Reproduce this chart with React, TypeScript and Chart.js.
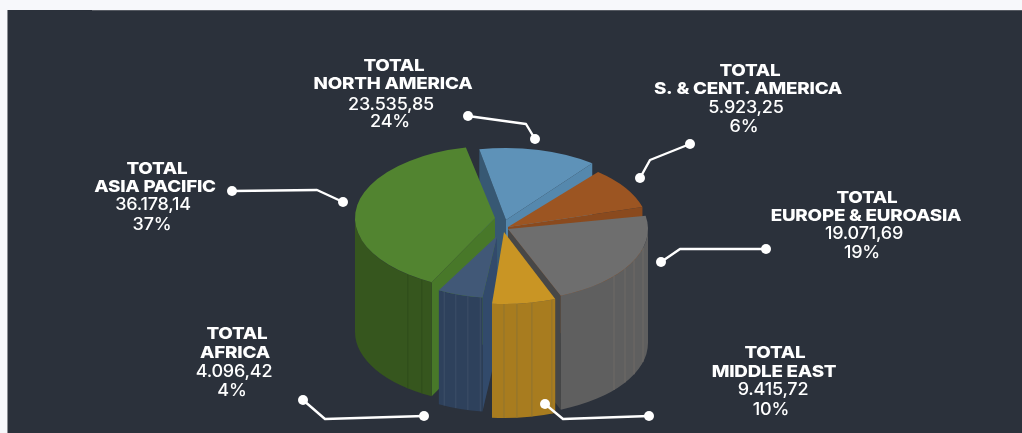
import React, { useEffect, useRef } from "react";
import { Chart, registerables } from "chart.js";

Chart.register(...registerables);

const categories = ["NORTH AMERICA", "S. & CENT. AMERICA", "EUROPE & EUROASIA", "MIDDLE EAST", "AFRICA", "ASIA PACIFIC"];
// Printed figures, as the picture labels them.
const totals = ["23.535,85", "5.923,25", "19.071,69", "9.415,72", "4.096,42", "36.178,14"];
const percents = ["24%", "6%", "19%", "10%", "4%", "37%"];
// Wedge sizes as they are actually drawn in the picture (the artwork is not proportional to its labels).
const drawnShares = [13.9, 10.5, 22.5, 7.8, 6.1, 39.2];

const topColors = ["#5e92b8", "#9c5522", "#6e6e6e", "#c99524", "#415877", "#528430"];
const wallColors = ["#4f7d9e", "#85481c", "#5f5f5f", "#a87c1f", "#2e415c", "#36561e"];
const startFaceColors = ["#375873", "#85481c", "#474747", "#a87c1f", "#324a6b", "#487829"];
const endFaceColors = ["#5588ad", "#8a4a1e", "#474747", "#a87c1f", "#2e415c", "#36561e"];
const facetColors = ["#4f7d9e", "#85481c", "#6f6a66", "#8f7431", "#3d4f68", "#2f4d1a"];

const W = 1014;
const H = 423;
const FONT = "Inter, 'Liberation Sans', sans-serif";
const SQUASH = 0.514;
const DEPTH = 114;
const drawOrder = [0, 1, 5, 2, 4, 3];
const sliceDx = [5, 7, 7, 3, -4, -6];
const sliceDy = [-6.5, 0.5, 2.5, 5.5, 9.5, -8.5];
const radiusScale = [1, 1, 1, 1, 0.86, 1];
const trimStart = [0, 1, 2.6, 0.7, 1, -1];
const trimEnd = [-1, -3, 0, -1, 1, -1];
const facets: number[][] = [[], [], [105.4, 115.8, 123.3, 130.8], [160, 168.5, 174.7, 180], [188, 194, 200, 206], [211.5, 218.5]];

// Label blocks: page coordinates of the centre of each line.
const labelX: number[][] = [[394, 393, 391, 390], [750, 748, 746, 744], [867, 866, 864, 862], [775, 774, 773, 771], [237, 235, 234, 232], [157, 155, 153, 152]];
const labelY: number[][] = [[66, 84, 105, 122], [71, 89, 108, 127], [198, 216, 234, 253], [353, 372, 390, 410], [334, 353, 372, 391], [169, 187, 205, 225]];
const leaders: number[][][] = [
  [[468, 116], [526, 124], [535, 139]],
  [[690, 144], [650, 160], [640, 178]],
  [[766, 249], [680, 249], [661, 262]],
  [[545, 404], [563, 419], [649, 416]],
  [[303, 400], [325, 419], [424, 416]],
  [[232, 191], [317, 190], [343, 202]],
];

const PAGE_X = 8;
const PAGE_Y = 10;
const TITLE_STRETCH = 1.14;
const VALUE_STRETCH = 1.06;
const deg = Math.PI / 180;

const pie3d = {
  id: "pie3d",
  beforeDatasetsDraw(chart: any) {
    const { ctx } = chart;
    const arcs = chart.getDatasetMeta(0).data;
    ctx.save();
    for (const i of drawOrder) {
      const arc = arcs[i];
      const r = arc.outerRadius * radiusScale[i];
      const rx = r;
      const ry = r * SQUASH;
      const cx = arc.x + sliceDx[i];
      const cy = arc.y + sliceDy[i];
      const a = arc.startAngle + Math.PI / 2 + trimStart[i] * deg;
      const b = arc.endAngle + Math.PI / 2 + trimEnd[i] * deg;
      const px = (t: number) => cx + rx * Math.sin(t);
      const py = (t: number) => cy - ry * Math.cos(t);

      const face = (t: number, color: string) => {
        ctx.fillStyle = color;
        ctx.beginPath();
        ctx.moveTo(cx, cy);
        ctx.lineTo(px(t), py(t));
        ctx.lineTo(px(t), py(t) + DEPTH);
        ctx.lineTo(cx, cy + DEPTH);
        ctx.closePath();
        ctx.fill();
      };
      if (Math.sin(a) < 0) face(a, startFaceColors[i]);
      if (Math.sin(b) > 0) face(b, endFaceColors[i]);

      // Outer wall: only the part that faces the viewer.
      const wa = Math.max(a, 90 * deg);
      const wb = Math.min(b, 270 * deg);
      if (wb > wa) {
        ctx.fillStyle = wallColors[i];
        ctx.beginPath();
        ctx.ellipse(cx, cy, rx, ry, 0, wa - Math.PI / 2, wb - Math.PI / 2);
        ctx.ellipse(cx, cy + DEPTH, rx, ry, 0, wb - Math.PI / 2, wa - Math.PI / 2, true);
        ctx.closePath();
        ctx.fill();
        ctx.strokeStyle = facetColors[i];
        ctx.lineWidth = 1;
        for (const f of facets[i]) {
          const t = f * deg;
          ctx.beginPath();
          ctx.moveTo(px(t), py(t));
          ctx.lineTo(px(t), py(t) + DEPTH);
          ctx.stroke();
        }
      }

      // Top face
      ctx.fillStyle = arc.options.backgroundColor;
      ctx.beginPath();
      ctx.moveTo(cx, cy);
      ctx.ellipse(cx, cy, rx, ry, 0, a - Math.PI / 2, b - Math.PI / 2);
      ctx.closePath();
      ctx.fill();
    }
    ctx.restore();
    return false;
  },
  afterDraw(chart: any) {
    const { ctx } = chart;
    ctx.save();
    ctx.strokeStyle = "#ffffff";
    ctx.fillStyle = "#ffffff";
    ctx.lineWidth = 2.4;
    ctx.lineJoin = "round";
    for (const pts of leaders) {
      ctx.beginPath();
      pts.forEach(([x, y], k) => (k === 0 ? ctx.moveTo(x - PAGE_X, y - PAGE_Y) : ctx.lineTo(x - PAGE_X, y - PAGE_Y)));
      ctx.stroke();
      for (const k of [0, pts.length - 1]) {
        ctx.beginPath();
        ctx.arc(pts[k][0] - PAGE_X, pts[k][1] - PAGE_Y, 5, 0, Math.PI * 2);
        ctx.fill();
      }
    }
    ctx.textAlign = "center";
    ctx.textBaseline = "middle";
    categories.forEach((cat, i) => {
      const lines = ["TOTAL", cat, totals[i], percents[i]];
      lines.forEach((line, k) => {
        const bold = k < 2;
        const stretch = bold ? TITLE_STRETCH : VALUE_STRETCH;
        ctx.font = bold ? `800 16.5px ${FONT}` : `500 17px ${FONT}`;
        ctx.letterSpacing = "-0.2px";
        ctx.save();
        ctx.translate(labelX[i][k] - PAGE_X, labelY[i][k] - PAGE_Y);
        ctx.scale(stretch, 1);
        ctx.fillText(line, 0, 0);
        ctx.restore();
      });
    });
    ctx.restore();
  },
};

export default function App() {
  const ref = useRef<HTMLCanvasElement>(null);
  useEffect(() => {
    document.documentElement.style.overflow = "hidden";
    document.body.style.background = "#f7f8fb";
    const chart = new Chart(ref.current as HTMLCanvasElement, {
      type: "pie",
      data: {
        labels: categories,
        datasets: [{ data: drawnShares, backgroundColor: topColors, borderWidth: 0, radius: 140 } as any],
      },
      options: {
        animation: false,
        responsive: false,
        rotation: -11,
        layout: { padding: { right: 28, top: 10 } },
        plugins: { legend: { display: false }, tooltip: { enabled: false } },
      },
      plugins: [pie3d as any],
    });
    return () => chart.destroy();
  }, []);
  return (
    <div style={{ position: "absolute", left: PAGE_X, top: PAGE_Y, width: W, height: H, background: "#2b313b", boxShadow: "-1px 0 0 #8b8e94" }}>
      <div style={{ position: "absolute", left: 84, top: 0, right: 0, height: 1, background: "#565a62" }} />
      <canvas ref={ref} width={W} height={H} style={{ display: "block", position: "relative" }} />
    </div>
  );
}
